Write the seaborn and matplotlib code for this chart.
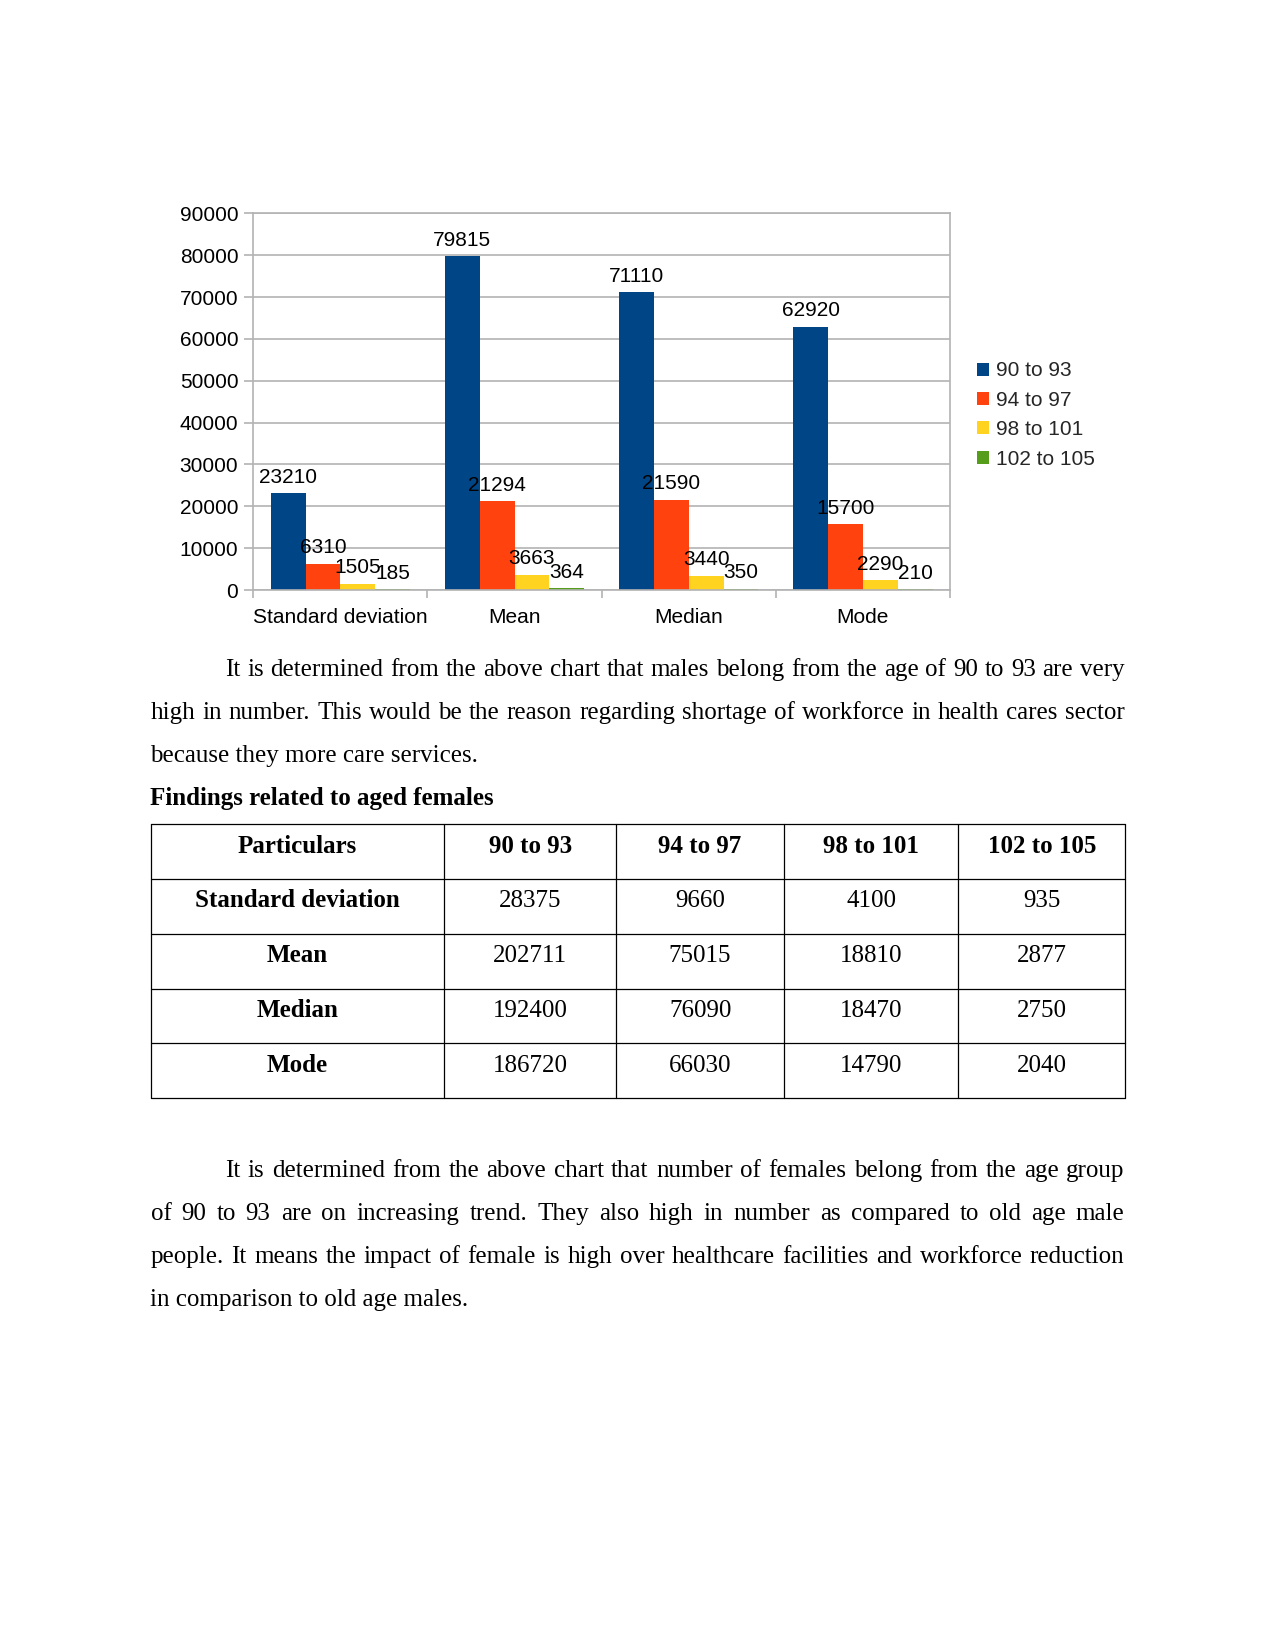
import numpy as np
import pandas as pd
import matplotlib
matplotlib.use("Agg")
import matplotlib.pyplot as plt
import seaborn as sns
from matplotlib.lines import Line2D
from matplotlib.patches import Patch

# ---------------- data ----------------
categories = ["Standard deviation", "Mean", "Median", "Mode"]
series_names = ["90 to 93", "94 to 97", "98 to 101", "102 to 105"]
male_90_93 = [23210, 79815, 71110, 62920]
male_94_97 = [6310, 21294, 21590, 15700]
male_98_101 = [1505, 3663, 3440, 2290]
male_102_105 = [185, 364, 350, 210]
colors = ["#004586", "#ff420e", "#ffd320", "#579d1c"]
y_ticks = list(range(0, 90001, 10000))

table_header = ["Particulars", "90 to 93", "94 to 97", "98 to 101", "102 to 105"]
table_rows = ["Standard deviation", "Mean", "Median", "Mode"]
fem_90_93 = [28375, 202711, 192400, 186720]
fem_94_97 = [9660, 75015, 76090, 66030]
fem_98_101 = [4100, 18810, 18470, 14790]
fem_102_105 = [935, 2877, 2750, 2040]

para1 = [
    "It is determined from the above chart that males belong from the age of 90 to 93 are very",
    "high in number. This would be the reason regarding shortage of workforce in health cares sector",
    "because they more care services.",
]
heading = "Findings related to aged females"
para2 = [
    "It is determined from the above chart that number of females belong from the age group",
    "of 90 to 93 are on increasing trend. They also high in number as compared to old age male",
    "people. It means the impact of female is high over healthcare facilities and workforce reduction",
    "in comparison to old age males.",
]

# ---------------- figure ----------------
W, H = 1275, 1651
DPI = 150
sns.set_theme(style="white")
plt.rcParams["font.family"] = ["Liberation Sans", "DejaVu Sans"]
SERIF = ["Liberation Serif", "DejaVu Serif"]

fig = plt.figure(figsize=(W / DPI, H / DPI), dpi=DPI)
fig.patch.set_facecolor("white")

ax_l, ax_r, ax_t, ax_b = 253.3, 950.0, 213.3, 590.0
ax = fig.add_axes([ax_l / W, 1 - ax_b / H, (ax_r - ax_l) / W, (ax_b - ax_t) / H])

df = pd.DataFrame({
    "category": categories * 4,
    "group": np.repeat(series_names, len(categories)),
    "value": male_90_93 + male_94_97 + male_98_101 + male_102_105,
})
sns.barplot(data=df, x="category", y="value", hue="group", order=categories,
            hue_order=series_names, palette=colors, saturation=1, width=0.8,
            errorbar=None, ax=ax, linewidth=0)
if ax.get_legend() is not None:
    ax.get_legend().remove()

for cont in ax.containers:
    ax.bar_label(cont, fmt="%d", padding=3, fontsize=10, color="black")

ax.set_xlim(-0.5, len(categories) - 0.5)
ax.set_ylim(0, 90000)
ax.set_yticks(y_ticks)
ax.set_yticklabels([str(v) for v in y_ticks])
ax.set_xlabel("")
ax.set_ylabel("")
ax.yaxis.grid(True, color="#b3b3b3", lw=0.8)
ax.xaxis.grid(False)
ax.set_axisbelow(True)
for s in ax.spines.values():
    s.set_color("#b3b3b3")
    s.set_linewidth(0.8)
ax.tick_params(axis="y", left=True, length=4.3, width=0.8, color="#b3b3b3",
               pad=2.9, labelsize=10, labelcolor="black")
ax.tick_params(axis="x", which="major", bottom=True, length=0, pad=8.6,
               labelsize=10, labelcolor="black")
ax.set_xticks([i - 0.5 for i in range(len(categories) + 1)], minor=True)
ax.tick_params(axis="x", which="minor", bottom=True, length=3.9, width=0.8,
               color="#b3b3b3", direction="out")

handles = [Patch(facecolor=c, edgecolor="none") for c in colors]
fig.legend(handles, series_names, loc="center left",
           bbox_to_anchor=(977 / W, 1 - 415 / H), frameon=False,
           handlelength=0.58, handleheight=0.58, handletextpad=0.35,
           labelspacing=0.5, borderpad=0, borderaxespad=0, fontsize=10)

# ---------------- page text ----------------
renderer = fig.canvas.get_renderer()
LM, RM, IND = 150.5, 1124.5, 225.0


def put_line(text, x0, x1, yb, justify, **kw):
    if not justify:
        fig.text(x0 / W, 1 - yb / H, text, ha="left", va="baseline", **kw)
        return
    words = text.split(" ")
    objs = [fig.text(0, 1 - yb / H, w, ha="left", va="baseline", **kw) for w in words]
    widths = [o.get_window_extent(renderer).width for o in objs]
    gap = (x1 - x0 - sum(widths)) / (len(words) - 1)
    x = x0
    for o, w in zip(objs, widths):
        o.set_x(x / W)
        x += w + gap


LS = 43.1
tkw = dict(family=SERIF, fontsize=12, color="black")
b0 = 676.0
for i, line in enumerate(para1):
    put_line(line, IND if i == 0 else LM, RM, b0 + i * LS, i < len(para1) - 1, **tkw)
fig.text(LM / W, 1 - (b0 + 3 * LS) / H, heading, ha="left", va="baseline",
         fontweight="bold", **tkw)

b1 = 1177.0
for i, line in enumerate(para2):
    put_line(line, IND if i == 0 else LM, RM, b1 + i * LS, i < len(para2) - 1, **tkw)

# ---------------- table ----------------
col_x = [150.5, 444.3, 615.9, 784.3, 958.0, 1125.4]
row_y = [824.3, 879.0, 933.8, 988.6, 1043.3, 1098.0]
for x in col_x:
    fig.add_artist(Line2D([x / W, x / W], [1 - row_y[0] / H, 1 - row_y[-1] / H],
                          transform=fig.transFigure, color="black", lw=0.6))
for y in row_y:
    fig.add_artist(Line2D([col_x[0] / W, col_x[-1] / W], [1 - y / H, 1 - y / H],
                          transform=fig.transFigure, color="black", lw=0.6))

cols = [fem_90_93, fem_94_97, fem_98_101, fem_102_105]
cells = [table_header] + [[table_rows[r]] + [str(c[r]) for c in cols]
                          for r in range(len(table_rows))]
for r, row in enumerate(cells):
    yb = row_y[r] + 28.5
    for c, txt in enumerate(row):
        xc = (col_x[c] + col_x[c + 1]) / 2
        bold = (r == 0) or (c == 0)
        fig.text(xc / W, 1 - yb / H, txt, ha="center", va="baseline",
                 fontweight="bold" if bold else "normal", **tkw)

fig.savefig("out.png", dpi=DPI, facecolor="white")
